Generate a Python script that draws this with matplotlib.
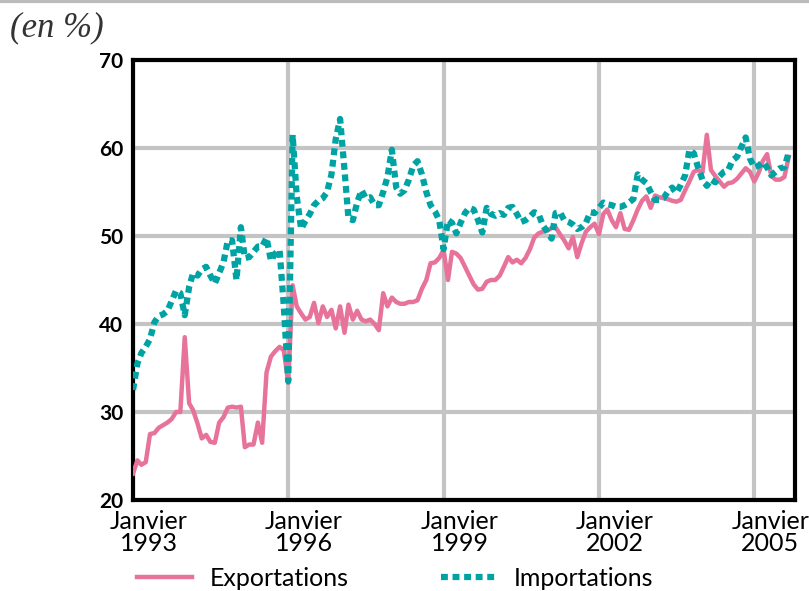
import matplotlib
matplotlib.use("Agg")
import matplotlib.pyplot as plt
from matplotlib.lines import Line2D
import pandas as pd

# Part des échanges (en %), mensuel, janvier 1993 -> septembre 2005
exportations = [
    23.0, 24.5, 24.0, 24.3, 27.5, 27.6, 28.2, 28.5, 28.8, 29.2, 30.0, 30.0,
    38.5, 31.0, 30.2, 28.7, 27.0, 27.4, 26.6, 26.5, 28.8, 29.4, 30.5, 30.6,
    30.5, 30.6, 26.0, 26.3, 26.3, 28.8, 26.5, 34.5, 36.3, 36.9, 37.4, 37.0,
    33.3, 44.4, 42.0, 41.2, 40.5, 40.8, 42.4, 40.1, 42.0, 40.8, 41.6, 39.5,
    42.0, 39.0, 42.2, 40.5, 41.5, 40.5, 40.3, 40.5, 40.0, 39.3, 43.5, 42.0,
    43.0, 42.5, 42.3, 42.3, 42.5, 42.5, 42.7, 44.0, 45.0, 46.9, 47.0, 47.5,
    48.4, 45.0, 48.2, 48.0, 47.5, 46.5, 45.5, 44.5, 43.9, 44.0, 44.8, 45.0,
    45.0, 45.5, 46.5, 47.6, 47.0, 47.3, 46.9, 47.5, 48.5, 49.8, 50.3, 50.5,
    50.6, 50.9, 51.0, 50.2, 49.5, 48.6, 49.9, 47.6, 49.2, 50.5, 51.0, 51.4,
    50.2, 52.5, 53.0, 51.8, 51.0, 52.6, 50.8, 50.7, 51.8, 53.0, 54.0, 54.5,
    53.2, 54.6, 54.4, 54.3, 54.2, 54.0, 53.9, 54.1, 55.2, 56.2, 57.3, 57.5,
    57.2, 61.5, 57.5, 56.8, 56.2, 55.6, 56.0, 56.1, 56.5, 57.1, 57.7, 57.3,
    56.2, 57.2, 58.5, 59.3, 56.8, 56.4, 56.4, 56.7, 59.0,
]
importations = [
    32.5, 35.5, 36.7, 37.4, 38.3, 40.2, 40.9, 41.1, 41.5, 42.6, 43.8, 43.5,
    41.0, 44.2, 45.8, 45.5, 46.2, 46.5, 45.5, 44.6, 45.8, 47.0, 49.5, 49.5,
    45.0, 51.0, 47.5, 47.6, 48.2, 48.8, 48.8, 49.8, 47.2, 48.0, 48.4, 42.0,
    33.5, 61.5, 54.5, 50.8, 51.7, 52.5, 53.5, 54.0, 54.3, 55.0, 57.0, 61.0,
    63.3, 57.5, 52.0, 51.8, 53.8, 55.2, 54.3, 54.4, 53.5, 53.5, 55.0, 56.7,
    59.8, 55.5, 54.8, 55.2, 56.4, 58.0, 58.5, 57.0, 55.0, 53.5, 52.8, 51.8,
    48.5, 51.8, 51.5, 50.3, 51.5, 52.6, 53.2, 53.0, 51.8, 50.4, 53.2, 52.5,
    52.3, 52.6, 52.4, 53.2, 53.3, 52.5, 51.6, 51.8, 52.2, 52.7, 52.5, 51.2,
    50.5, 49.7, 52.6, 52.7, 51.8, 51.6, 51.3, 50.8, 51.0, 51.5, 52.7, 52.6,
    53.2, 53.8, 53.6, 53.5, 53.3, 53.3, 53.5, 53.8, 54.2, 57.0, 56.4, 56.0,
    55.0, 54.1, 54.1, 54.3, 55.0, 55.5, 54.9, 55.8, 56.9, 59.8, 59.4, 57.8,
    56.4, 55.7, 56.4, 56.1, 56.8, 57.3, 57.5, 58.6, 59.0, 60.1, 61.2, 58.8,
    57.8, 58.0, 58.4, 57.8, 56.9, 57.3, 57.7, 57.8, 59.5,
]
tick_years = [1993, 1996, 1999, 2002, 2005]
yticks = [20, 30, 40, 50, 60, 70]

dates = pd.date_range("1993-01-01", periods=len(exportations), freq="MS")

fig = plt.figure(figsize=(8.09, 5.91), dpi=100)
ax = fig.add_axes([0.1644, 0.154, 0.8183, 0.7445])

ax.plot(dates, exportations, color="#e8739a", lw=3.2, solid_joinstyle="round",
        label="Exportations", zorder=3)
ax.plot(dates, importations, color="#00a3a3", lw=4.5, linestyle=(0, (1.1, 0.75)),
        label="Importations", zorder=4)

ax.set_ylim(20, 70)
ax.set_xlim(pd.Timestamp("1993-01-01"), pd.Timestamp("2005-10-15"))
ax.set_yticks(yticks)
ax.set_yticklabels([str(v) for v in yticks], fontsize=15, fontweight="bold", family="Lato")

# gridlines on January, labels sit a little to the right (as in the source)
xt = [pd.Timestamp(f"{y}-01-01") for y in tick_years]
ax.set_xticks(xt)
ax.set_xticklabels([""] * len(xt))
xl = [t + pd.Timedelta(days=112) for t in xt]
ax.set_xticks(xl, minor=True)
ax.set_xticklabels([f"Janvier\n{y}" for y in tick_years], minor=True, fontsize=18,
                   family="Lato", linespacing=0.95)

ax.tick_params(axis="both", which="both", length=0)
ax.tick_params(axis="x", which="minor", pad=7)
ax.tick_params(axis="y", pad=7)
ax.grid(True, which="major", color="#c4c4c4", lw=3)
ax.set_axisbelow(True)
for s in ax.spines.values():
    s.set_linewidth(3)
    s.set_color("black")

fig.text(0.012, 0.953, "(en %)", fontsize=25, style="italic", family="Liberation Serif",
         va="center", color="#333333")
fig.add_artist(Line2D([0, 1], [0.998, 0.998], color="#bbbbbb", lw=3))

fig.legend(loc="lower left", bbox_to_anchor=(0.148, -0.028), ncol=2, frameon=False,
           prop={"family": "Lato", "size": 18}, handlelength=2.2, borderpad=0.2,
           columnspacing=3.7, handletextpad=0.7)

fig.savefig("out.png", dpi=100)
